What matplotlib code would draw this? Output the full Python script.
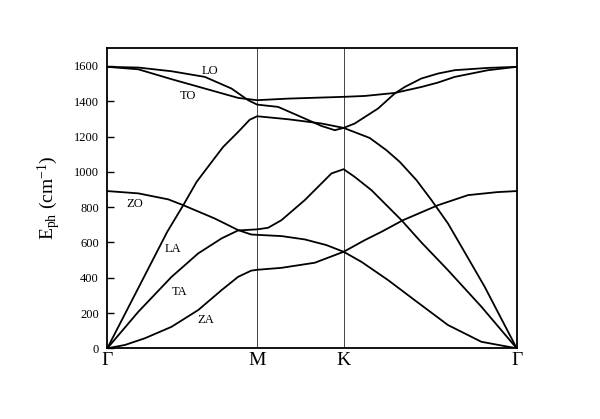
import matplotlib
matplotlib.use("Agg")
import matplotlib.pyplot as plt

# high-symmetry points (path length units, Gamma-M = 1)
sym_pos = [0.0, 1.0, 1.577, 2.732]
sym_labels = ["Γ", "M", "K", "Γ"]

yticks = [0, 200, 400, 600, 800, 1000, 1200, 1400, 1600]

# band A: ZA (Γ-M-K) continuing as ZO (K-Γ)
kA = [0, 0.118, 0.251, 0.429, 0.607, 0.763, 0.873, 0.96, 1.0, 1.162, 1.385, 1.577,
      1.718, 1.829, 1.973, 2.207, 2.407, 2.6, 2.732]
eA = [0, 19, 57, 122, 217, 330, 405, 440, 445, 456, 485, 547,
      613, 660, 726, 811, 868, 885, 891]

# band B: TA, peak at K
kB = [0, 0.207, 0.429, 0.607, 0.763, 0.873, 1.0, 1.073, 1.162, 1.318, 1.496, 1.577,
      1.65, 1.763, 1.963, 2.096, 2.273, 2.496, 2.732]
eB = [0, 207, 405, 538, 623, 668, 674, 683, 726, 840, 991, 1015,
      972, 896, 726, 600, 443, 236, 0]

# band C: ZO (Γ-M-K) continuing down to Γ
kC = [0, 0.207, 0.407, 0.507, 0.716, 0.873, 0.96, 1.0, 1.162, 1.318, 1.462, 1.577,
      1.696, 1.873, 2.051, 2.273, 2.496, 2.732]
eC = [891, 878, 844, 811, 736, 670, 645, 643, 636, 617, 585, 547,
      490, 387, 273, 132, 37, 0]

# band D: LA
kD = [0, 0.2, 0.4, 0.507, 0.596, 0.7, 0.773, 0.873, 0.95, 1.0, 1.207, 1.429, 1.577,
      1.751, 1.862, 1.951, 2.063, 2.163, 2.273, 2.407, 2.518, 2.732]
eD = [0, 330, 660, 811, 943, 1060, 1141, 1226, 1295, 1315, 1298, 1274, 1249,
      1192, 1123, 1057, 953, 840, 708, 512, 349, 0]

# band E: LO
kE = [0, 0.207, 0.429, 0.651, 0.829, 0.94, 1.0, 1.14, 1.318, 1.429, 1.518, 1.577,
      1.651, 1.807, 1.918, 1.985, 2.096, 2.207, 2.318, 2.54, 2.732]
eE = [1595, 1591, 1570, 1538, 1472, 1406, 1381, 1368, 1302, 1260, 1236, 1249,
      1274, 1359, 1444, 1481, 1529, 1557, 1576, 1589, 1595]

# band F: TO
kF = [0, 0.207, 0.429, 0.651, 0.873, 1.0, 1.207, 1.577, 1.718, 1.918, 2.096, 2.207,
      2.318, 2.429, 2.54, 2.732]
eF = [1595, 1581, 1525, 1472, 1419, 1406, 1415, 1425, 1430, 1447, 1481, 1506,
      1538, 1557, 1576, 1595]

branch_names = ["LO", "TO", "ZO", "LA", "TA", "ZA"]
branch_k = [0.685, 0.535, 0.185, 0.44, 0.485, 0.659]
branch_e = [1572, 1427, 819, 562, 318, 160]

plt.rcParams["font.family"] = ["Liberation Serif", "DejaVu Serif"]
plt.rcParams["mathtext.fontset"] = "custom"
plt.rcParams["mathtext.rm"] = "Liberation Serif"
plt.rcParams["mathtext.it"] = "Liberation Serif:italic"
plt.rcParams["mathtext.bf"] = "Liberation Serif:bold"

fig = plt.figure(figsize=(6.0, 4.19), dpi=100)
ax = fig.add_axes([0.1788, 0.1687, 0.8612 - 0.1788, 0.8847 - 0.1687])

for x in sym_pos[1:3]:
    ax.axvline(x, color="#444444", lw=0.7, zorder=1)

for k, e in [(kA, eA), (kB, eB), (kC, eC), (kD, eD), (kE, eE), (kF, eF)]:
    ax.plot(k, e, color="black", lw=1.3, zorder=2)

for name, k, e in zip(branch_names, branch_k, branch_e):
    ax.text(k, e, name, ha="center", va="center", fontsize=9)

ax.set_xlim(sym_pos[0], sym_pos[-1])
ax.set_ylim(0, 1700)
ax.set_xticks(sym_pos)
ax.set_xticklabels(sym_labels, fontsize=14)
ax.set_yticks(yticks)
ax.set_yticklabels([str(v) for v in yticks], fontsize=9)
ax.tick_params(axis="x", length=0, pad=3)
ax.tick_params(axis="y", direction="in", length=5, width=1.0, pad=6, right=False)

for s in ax.spines.values():
    s.set_linewidth(1.3)

ax.set_ylabel(r"E$_{\mathrm{ph}}$ (cm$^{\mathrm{-1}}$)", fontsize=14, labelpad=8)

fig.savefig("out.png", dpi=100)
